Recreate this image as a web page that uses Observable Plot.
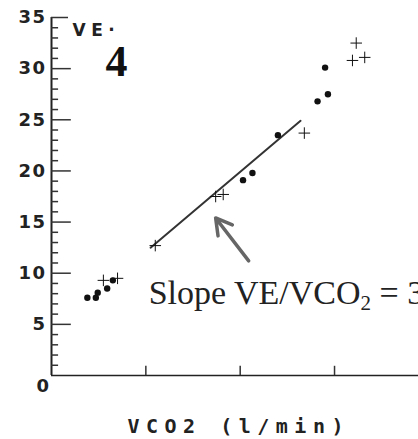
<!DOCTYPE html>
<html><head><meta charset="utf-8">
<script src="https://cdn.jsdelivr.net/npm/d3@7"></script>
<script src="https://cdn.jsdelivr.net/npm/@observablehq/plot@0.6"></script>
<style>
html,body{margin:0;padding:0;background:#fff;}
.mono text{font-family:"DejaVu Sans Mono",monospace;font-weight:bold;}
.wide text{font-family:"DejaVu Sans",sans-serif;font-weight:bold;}
.ylab text{letter-spacing:1.5px;}
.xlab text{letter-spacing:6.5px;}
.velab text{letter-spacing:5.5px;}
</style>
</head><body>
<div id="chart"></div>
<script>
// VCO2 (l/min) and VE (l/min) readings
const vco2 = [0.38,0.47,0.49,0.55,0.59,0.65,0.70,1.10,1.74,1.82,2.03,2.13,2.40,2.68,2.82,2.93,2.90,3.19,3.32,3.23];
const ve   = [7.6, 7.6, 8.1, 9.3, 8.5, 9.3, 9.5,12.7,17.5,17.7,19.1,19.8,23.5,23.7,26.8,27.5,30.1,30.8,31.1,32.5];
const marker = ["dot","dot","dot","plus","dot","dot","plus","plus","plus","plus","dot","dot","dot","plus","dot","dot","dot","plus","plus","plus"];
// regression line endpoints
const fitX = [1.05, 2.64];
const fitY = [12.5, 24.9];
// y tick labels
const yLabels = [35,30,25,20,15,10,5];
const yMajor = [5,10,15,20,25,30];
const yMinor = d3.range(1,35).filter(v => v % 5 !== 0);
const xTicks = [1,2,3];
const slopeText = "Slope VE/VCO2 = 31";

const pts = vco2.map((x,i) => ({x, y: ve[i], m: marker[i]}));
const fit = fitX.map((x,i) => ({x, y: fitY[i]}));

const plot = Plot.plot({
  width: 418, height: 439,
  marginLeft: 51, marginRight: 0, marginTop: 17, marginBottom: 64,
  x: {domain: [0, 3.89], axis: null},
  y: {domain: [0, 35], axis: null},
  style: {background: "#fff"},
  marks: [
    Plot.ruleX([0], {y1: 0, y2: 35, stroke: "#222", strokeWidth: 2}),
    Plot.ruleY([0], {x1: 0, x2: 3.89, stroke: "#222", strokeWidth: 1.6}),
    Plot.ruleY(yMinor, {y: d => d, x1: 0, x2: 0.075, stroke: "#333", strokeWidth: 1.5}),
    Plot.ruleY(yMajor, {y: d => d, x1: 0, x2: 0.21, stroke: "#333", strokeWidth: 1.5}),
    Plot.ruleY([35], {x1: 0, x2: 0.18, stroke: "#333", strokeWidth: 1.5}),
    Plot.ruleX(xTicks, {x: d => d, y1: 0, y2: 0.9, stroke: "#333", strokeWidth: 1.5}),
    Plot.text(yLabels, {x: 0, y: d => d, text: d => String(d), textAnchor: "end", dx: -5, fontSize: 18, fill: "#222", className: "wide ylab"}),
    Plot.text([0], {x: 0, y: d => d, text: d => String(d), textAnchor: "middle", dx: -8, dy: 11, fontSize: 18, fill: "#222", className: "wide ylab"}),
    Plot.text(["VE·"], {frameAnchor: "top-left", dx: 21, dy: 6, textAnchor: "start", fontSize: 17, fill: "#222", className: "wide velab"}),
    Plot.text(["4"], {frameAnchor: "top-left", dx: 54, dy: 27, textAnchor: "start", fontSize: 44, fontWeight: "bold", fontFamily: "Liberation Serif, serif", fill: "#111"}),
    Plot.line(fit, {x: "x", y: "y", stroke: "#333", strokeWidth: 2}),
    Plot.dot(pts.filter(d => d.m === "dot"), {x: "x", y: "y", r: 3.2, fill: "#111", stroke: "none"}),
    Plot.dot(pts.filter(d => d.m === "plus"), {x: "x", y: "y", symbol: "plus", r: 3.8, fill: "#111", stroke: "#111", strokeWidth: 1}),
    Plot.arrow([{x1: 2.09, y1: 11.2, x2: 1.74, y2: 15.4}], {x1: "x1", y1: "y1", x2: "x2", y2: "y2", stroke: "#666", strokeWidth: 3.5, headLength: 14}),
    Plot.text([slopeText], {x: 1.03, y: 7.0, textAnchor: "start", fontSize: 34, fontFamily: "Liberation Serif, serif", fill: "#222", lineAnchor: "bottom", className: "slope"}),
    Plot.text(["VCO2 (l/min)"], {frameAnchor: "bottom-left", dx: 76, dy: 57, textAnchor: "start", fontSize: 20, fill: "#222", className: "mono xlab"})
  ]
});
document.getElementById("chart").appendChild(plot);
// subscript the "2" in VCO2 of the slope annotation
d3.select(plot).selectAll(".slope text").each(function() {
  const t = d3.select(this);
  t.text(null);
  t.append("tspan").text("Slope VE/VCO");
  t.append("tspan").attr("dy", 6).attr("font-size", 21).text("2");
  t.append("tspan").attr("dy", -6).text(" = 31");
});
</script>
</body></html>
